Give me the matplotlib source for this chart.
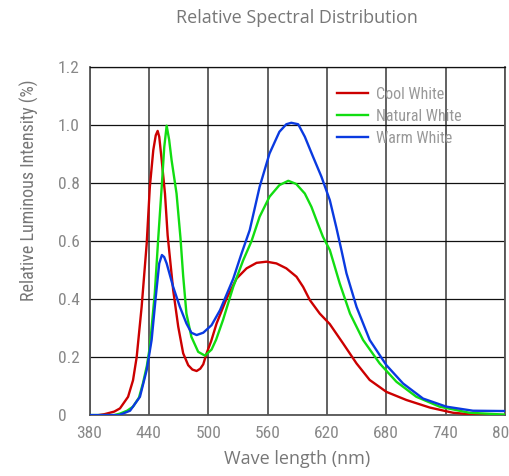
import matplotlib
matplotlib.use('Agg')
import matplotlib.pyplot as plt

# values (wavelength in nm, relative intensity)
cool_nm = [380, 395, 405, 410.8, 419, 424, 427.7, 432.7, 437.8, 441, 444.5, 447, 448.9,
           450.5, 453, 456.3, 459, 464.6, 469.7, 474.7, 479.8, 484, 488.3, 492, 495, 498.4,
           503, 508.5, 518.6, 528.7, 538.8, 548.9, 559, 569, 579, 589.3, 596, 602.7, 612.8,
           622.9, 636.4, 650, 663.3, 680.2, 700.4, 724, 747.5, 774, 800]
cool_val = [-0.005, 0.003, 0.012, 0.023, 0.063, 0.12, 0.20, 0.373, 0.59, 0.787, 0.914,
            0.965, 0.98, 0.96, 0.879, 0.764, 0.62, 0.431, 0.305, 0.213, 0.172, 0.157, 0.152,
            0.16, 0.175, 0.213, 0.255, 0.316, 0.402, 0.471, 0.506, 0.525, 0.529, 0.523,
            0.506, 0.477, 0.442, 0.397, 0.35, 0.314, 0.247, 0.178, 0.121, 0.08, 0.052,
            0.026, 0.008, 0.0, 0.0]

natural_nm = [380, 405, 410.8, 418, 424, 430, 434, 438, 441, 446, 449.5, 453, 455.6, 458,
              460.5, 463, 468, 472, 474.7, 478, 483, 489.9, 496.7, 503.4, 508, 515, 525.3,
              535.4, 543.8, 552, 562, 572, 581, 589, 597.7, 604.4, 609.5, 616, 623, 633,
              643.4, 656.6, 673.4, 690.3, 710.5, 734, 764, 798, 800]
natural_val = [0.0, 0.0, 0.005, 0.015, 0.029, 0.06, 0.109, 0.17, 0.235, 0.42, 0.61, 0.787,
               0.925, 0.998, 0.95, 0.879, 0.764, 0.61, 0.48, 0.35, 0.27, 0.218, 0.205, 0.226,
               0.26, 0.328, 0.442, 0.534, 0.60, 0.684, 0.753, 0.793, 0.808, 0.797, 0.764,
               0.718, 0.672, 0.615, 0.569, 0.454, 0.35, 0.259, 0.178, 0.115, 0.063, 0.029,
               0.008, 0.002, 0.002]

warm_nm = [380, 410, 421, 431, 437.8, 442.8, 447, 450.5, 453.2, 455.5, 458, 464.6, 471.4,
           478, 483, 488.3, 495, 503.4, 512, 525.3, 533.7, 542, 552, 562, 572, 579, 584,
           591, 597.7, 606, 614.5, 623, 629.7, 634.7, 639.8, 650, 663.3, 680.2, 697, 717.2,
           740.8, 767.7, 796, 800]
warm_val = [0.0, 0.0, 0.015, 0.063, 0.155, 0.259, 0.408, 0.523, 0.552, 0.545, 0.523, 0.442,
            0.373, 0.316, 0.284, 0.276, 0.284, 0.31, 0.362, 0.47, 0.557, 0.638, 0.787, 0.902,
            0.977, 1.003, 1.008, 1.003, 0.96, 0.891, 0.822, 0.741, 0.645, 0.569, 0.489,
            0.373, 0.259, 0.172, 0.109, 0.057, 0.029, 0.015, 0.014, 0.014]

x_ticks = [380, 440, 500, 560, 620, 680, 740, 800]
y_ticks = [0, 0.2, 0.4, 0.6, 0.8, 1.0, 1.2]
y_tick_labels = ['0', '0.2', '0.4', '0.6', '0.8', '1.0', '1.2']

NARROW = ['Roboto Condensed', 'DejaVu Sans']
WIDE = ['Open Sans', 'DejaVu Sans']
GREY = '#777777'

fig = plt.figure(figsize=(5.10, 4.76), dpi=100)
ax = fig.add_axes([0.1755, 0.128, 0.8145, 0.731])

line_kw = dict(lw=1.7, solid_joinstyle='round', zorder=3)
ax.plot(cool_nm, cool_val, color='#cc0000', label='Cool White', **line_kw)
ax.plot(natural_nm, natural_val, color='#11dd11', label='Natural White', **line_kw)
ax.plot(warm_nm, warm_val, color='#0a3ae0', label='Warm White', **line_kw)

ax.set_xlim(380, 800)
ax.set_ylim(0, 1.2)
ax.set_xticks(x_ticks)
ax.set_yticks(y_ticks)
ax.set_yticklabels(y_tick_labels)
ax.tick_params(length=0, labelsize=12.5, labelcolor='#888888')
ax.tick_params(axis='y', pad=23)
ax.tick_params(axis='x', pad=8)
for lab in ax.get_xticklabels() + ax.get_yticklabels():
    lab.set_family(NARROW)
    lab.set_stretch('condensed')
for lab in ax.get_yticklabels():
    lab.set_horizontalalignment('left')

ax.grid(axis='x', color='#555555', lw=1.3)
ax.grid(axis='y', color='#111111', lw=0.9)
for side in ('left', 'right', 'bottom'):
    ax.spines[side].set_color('#555555')
    ax.spines[side].set_linewidth(1.3)
ax.spines['top'].set_color('#111111')
ax.spines['top'].set_linewidth(0.9)

ax.set_xlabel('Wave length (nm)', fontsize=13, color=GREY, family=WIDE, labelpad=6)
ax.set_ylabel('Relative Luminous Intensity (%)', fontsize=13, color=GREY, family=NARROW)
ax.yaxis.set_label_coords(-0.122, 0.647)
fig.text(0.583, 0.962, 'Relative Spectral Distribution', fontsize=13, color=GREY,
         family=WIDE, ha='center', va='center')

leg = ax.legend(loc='upper left', bbox_to_anchor=(0.56, 0.985), frameon=False,
                handlelength=2.0, handletextpad=0.5, labelspacing=0.45,
                prop={'family': NARROW, 'stretch': 'condensed', 'size': 11.5})
for t in leg.get_texts():
    t.set_color('#999999')

fig.savefig('out.png', dpi=100)
